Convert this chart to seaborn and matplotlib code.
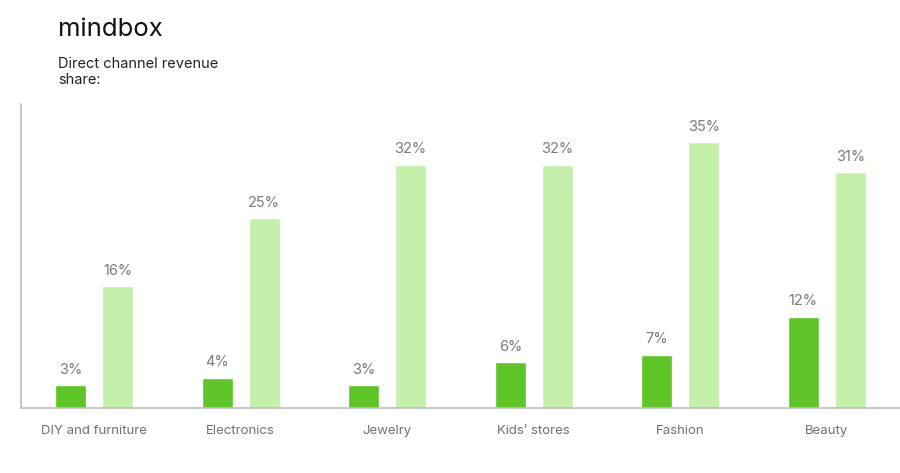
import matplotlib
matplotlib.use("Agg")
import matplotlib.pyplot as plt
import seaborn as sns
import pandas as pd

categories = ["DIY and furniture", "Electronics", "Jewelry", "Kids’ stores", "Fashion", "Beauty"]
series_names = ["Average", "Top"]
average_values = [3, 4, 3, 6, 7, 12]
top_values = [16, 25, 32, 32, 35, 31]

df = pd.DataFrame({
    "category": categories * 2,
    "series": [series_names[0]] * len(categories) + [series_names[1]] * len(categories),
    "value": average_values + top_values,
})

sns.set_theme(style="white")
plt.rcParams["font.family"] = ["Inter", "DejaVu Sans"]

fig = plt.figure(figsize=(9, 4.73), dpi=100)
ax = fig.add_axes([0.0233, 0.1374, 0.9767, 0.6427])

palette = {series_names[0]: "#5EC428", series_names[1]: "#C4F0AA"}
sns.barplot(data=df, x="category", y="value", hue="series", order=categories,
            hue_order=series_names, palette=palette, width=0.64, gap=0.34,
            saturation=1, legend=False, ax=ax, errorbar=None)

for cont in ax.containers:
    ax.bar_label(cont, labels=[f"{int(v)}%" for v in cont.datavalues],
                 padding=6, color="#7a7a7a", fontsize=10.5)

ax.set_xlim(-0.5, 5.5)
ax.set_ylim(0, 40)
ax.set_xlabel("")
ax.set_ylabel("")
ax.set_yticks([])
ax.tick_params(axis="x", length=0, pad=12, labelsize=9.5, labelcolor="#707070")
for s in ["top", "right"]:
    ax.spines[s].set_visible(False)
for s in ["left", "bottom"]:
    ax.spines[s].set_color("#bdbdbd")
    ax.spines[s].set_linewidth(1.2)

fig.text(58 / 900, 1 - 30 / 473, "mindbox", fontsize=18.5, fontweight="normal",
         color="#111111", va="center", ha="left")
fig.text(58 / 900, 1 - 72 / 473, "Direct channel revenue\nshare:", fontsize=10.5,
         color="#222222", va="center", ha="left", linespacing=1.2)

fig.savefig("out.png", dpi=100)
